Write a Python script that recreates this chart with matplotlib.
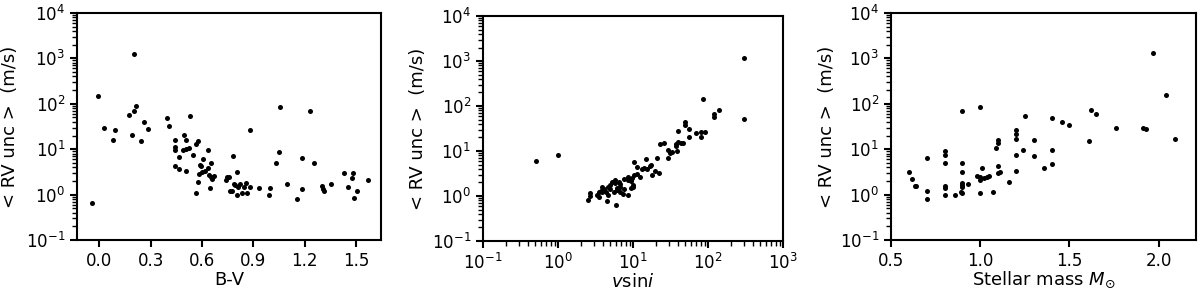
import matplotlib
matplotlib.use("Agg")
import matplotlib.pyplot as plt
from matplotlib.ticker import LogLocator, NullFormatter

# B-V colour vs mean RV uncertainty
bv = [-0.046, -0.011, 0.024, 0.081, 0.092, 0.203, 0.174, 0.191, 0.203, 0.213,
      0.242, 0.26, 0.281, 0.395, 0.404, 0.53, 0.444, 0.444, 0.444, 0.442,
      0.462, 0.466, 0.493, 0.503, 0.491, 0.508, 0.522, 0.503, 0.544, 0.565,
      0.575, 0.563, 0.573, 0.582, 0.586, 0.596, 0.604, 0.6, 0.614, 0.633,
      0.633, 0.643, 0.653, 0.641, 0.652, 0.66, 0.672, 0.738, 0.744, 0.757,
      0.783, 0.761, 0.775, 0.786, 0.794, 0.806, 0.804, 0.812, 0.824, 0.833,
      0.845, 0.855, 0.862, 0.882, 0.882, 0.932, 0.989, 0.997, 1.055, 1.051,
      1.033, 1.096, 1.156, 1.183, 1.183, 1.228, 1.253, 1.298, 1.306, 1.313,
      1.35, 1.428, 1.454, 1.473, 1.481, 1.485, 1.504, 1.568]
rv_bv = [0.65, 151, 29.5, 16.3, 27, 1250, 58, 20.7, 71, 89,
         15, 39, 28, 48, 33, 54, 15.8, 11, 9.8, 4.3,
         3.7, 6.9, 21, 16.3, 9.5, 10.3, 10.8, 3.25, 7.5, 13,
         15.5, 1.11, 1.85, 2.8, 4.6, 4.3, 6.1, 3.1, 3.3, 9.8,
         3.85, 1.41, 4.9, 2.7, 2.5, 2.24, 2.6, 2.05, 2.5, 2.5,
         7.0, 1.17, 1.17, 1.7, 1.6, 3.1, 0.96, 1.46, 1.7, 1.07,
         1.46, 1.8, 1.07, 26, 1.46, 1.39, 1.0, 1.39, 86, 8.5,
         5.0, 1.7, 0.78, 6.3, 1.34, 69, 5.0, 1.55, 1.3, 1.21,
         1.7, 3.0, 1.48, 2.27, 3.0, 0.85, 1.17, 2.09]

# vsini vs mean RV uncertainty
vsini = [0.51, 1.0, 306, 306, 85.5, 120, 122, 142, 50, 50,
         56, 39.5, 55, 69, 80.5, 91, 81, 23, 26, 37.5,
         40, 44, 47, 38, 39, 29, 31, 33.6, 29, 21,
         22.5, 19.7, 18.1, 15.1, 15.3, 16.6, 17.3, 14.2, 13.2, 10.2,
         11.2, 11.4, 12.5, 10.4, 9.6, 9.3, 8.7, 8.5, 10, 9.9,
         9.3, 8.6, 7.5, 6.8, 6.6, 6.7, 6.2, 5.8, 5.75, 6.2,
         6.7, 7.3, 6.0, 5.2, 5.0, 4.6, 4.9, 4.6, 4.54, 4.14,
         3.86, 3.7, 3.5, 3.86, 3.5, 3.27, 2.7, 2.7, 2.54, 4.35,
         5.5, 7.6]
rv_vsini = [6.1, 8.3, 1175, 51, 145, 67, 58, 83, 45, 37,
            31, 27.5, 20, 25, 27, 26, 20, 14, 15.4, 14.4,
            15.9, 15.4, 14.9, 13, 9.9, 10.6, 9.2, 9.6, 6.9, 7.0,
            3.2, 3.66, 3.0, 6.7, 4.0, 4.7, 5.0, 4.2, 3.9, 5.8,
            4.5, 3.1, 2.7, 2.87, 2.46, 2.19, 2.26, 2.6, 1.78, 1.6,
            1.52, 1.05, 2.45, 1.84, 2.0, 1.55, 1.52, 1.9, 2.22, 1.33,
            1.2, 1.1, 0.64, 2.0, 1.8, 1.6, 1.4, 1.05, 0.77, 1.42,
            1.55, 1.3, 1.2, 1.2, 0.96, 1.08, 1.14, 0.98, 0.81, 1.2,
            1.22, 1.43]

# stellar mass vs mean RV uncertainty
mass = [0.6, 0.62, 0.635, 0.64, 0.7, 0.7, 0.7, 0.8, 0.8, 0.8,
        0.8, 0.8, 0.8, 0.86, 0.89, 0.9, 0.9, 0.9, 0.9, 0.9,
        0.9, 0.9, 0.93, 1.0, 0.98, 1.0, 1.0, 1.0, 1.01, 1.02,
        1.04, 1.05, 1.07, 1.09, 1.1, 1.1, 1.1, 1.1, 1.11, 1.16,
        1.2, 1.2, 1.2, 1.2, 1.2, 1.25, 1.24, 1.3, 1.3, 1.36,
        1.4, 1.4, 1.4, 1.46, 1.5, 1.61, 1.62, 1.65, 1.76, 1.91,
        1.93, 1.97, 2.04, 2.09]
rv_mass = [3.1, 2.16, 1.58, 1.55, 6.5, 1.23, 0.81, 9.2, 7.3, 5.05,
           1.51, 1.4, 0.97, 1.0, 1.14, 1.08, 70, 5.0, 3.2, 1.8,
           1.65, 1.5, 1.7, 87, 2.57, 2.45, 2.15, 1.1, 3.85, 2.3,
           2.45, 2.6, 1.12, 10.7, 15.8, 13.5, 4.3, 3.0, 3.2, 1.9,
           27, 22, 16.5, 7.6, 3.3, 55, 9.8, 16, 7.0, 3.8,
           49, 9.8, 4.8, 39.5, 34, 15, 73, 60, 29, 30,
           28, 1300, 156, 16.9]

ylab = "< RV unc >  (m/s)"

fig = plt.figure(figsize=(12, 2.91), dpi=100)
ax1 = fig.add_axes([0.0642, 0.1753, 0.2533, 0.780])
ax2 = fig.add_axes([0.4025, 0.1718, 0.2500, 0.773])
ax3 = fig.add_axes([0.7425, 0.1753, 0.2542, 0.780])


def log_minor(axis):
    axis.set_major_locator(LogLocator(base=10, numticks=20))
    axis.set_minor_locator(LogLocator(base=10, subs=range(2, 10), numticks=100))
    axis.set_minor_formatter(NullFormatter())


for ax, x, y in [(ax1, bv, rv_bv), (ax2, vsini, rv_vsini), (ax3, mass, rv_mass)]:
    ax.scatter(x, y, s=13, color="black", linewidths=0)
    ax.set_yscale("log")
    ax.set_ylim(0.1, 1e4)
    log_minor(ax.yaxis)
    ax.set_ylabel(ylab, fontsize=13)
    ax.tick_params(which="major", labelsize=12, length=5, width=1.5)
    ax.tick_params(which="minor", length=3.5, width=1)
    for sp in ax.spines.values():
        sp.set_linewidth(1.5)

ax1.set_xlim(-0.131, 1.645)
ax1.set_xticks([0.0, 0.3, 0.6, 0.9, 1.2, 1.5])
ax1.set_xlabel("B-V", fontsize=13)

ax2.set_xscale("log")
ax2.set_xlim(0.1, 1000)
log_minor(ax2.xaxis)
ax2.set_xlabel(r"$v$sin$i$", fontsize=13)

ax3.set_xlim(0.5, 2.21)
ax3.set_xticks([0.5, 1.0, 1.5, 2.0])
ax3.set_xlabel(r"Stellar mass $M_{\odot}$", fontsize=13)

# label placement
ax1.yaxis.set_label_coords(-0.19, 0.5)
ax2.yaxis.set_label_coords(-0.187, 0.5)
ax3.yaxis.set_label_coords(-0.18, 0.5)
ax1.xaxis.set_label_coords(0.5, -0.135)
ax2.xaxis.set_label_coords(0.5, -0.142)
ax3.xaxis.set_label_coords(0.5, -0.13)

fig.savefig("out.png", dpi=100)
